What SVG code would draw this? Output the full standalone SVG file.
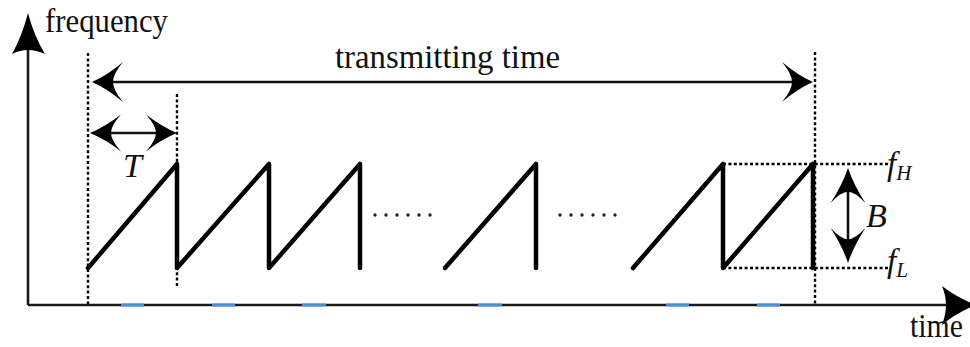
<svg xmlns="http://www.w3.org/2000/svg" xmlns:xlink="http://www.w3.org/1999/xlink" width="970" height="347" viewBox="0 0 970 347">
<style>
.ax{stroke:#1a1a1a;stroke-width:2.6;fill:none}
.saw{stroke:#000;stroke-width:4.5;fill:none;stroke-linecap:round;stroke-linejoin:round}
.dash{stroke:#000;stroke-width:2.4;stroke-dasharray:3 2.4;fill:none}
.dim{stroke:#111;stroke-width:2.6;fill:none}
.blue{stroke:#4a90d9;stroke-width:3}
.ah{fill:#000}
.t{font-family:"Liberation Serif","Times New Roman",serif;fill:#111}
.it{font-family:"Liberation Serif","Times New Roman",serif;font-style:italic;fill:#111}
.dot{fill:#222}
</style>
<defs>
<path id="ah" d="M0,0 Q-15,-6.5 -31,-20 Q-21,-8 -21,0 Q-21,8 -31,20 Q-15,6.5 0,0 Z"/>
</defs>
<g id="axes">
<line class="ax" x1="28" y1="305" x2="950" y2="305"/>
<line class="ax" x1="28" y1="305" x2="28" y2="40"/>
<path class="ah" d="M28,13 Q22,36 12,54 Q20,50 28,50 Q36,50 45,54 Q34,36 28,13 Z"/>
<path class="ah" d="M976,305 Q956,297 942,286 Q946,296 946,305 Q946,314 942,325 Q956,313 976,305 Z"/>
<line class="blue" x1="121" y1="305" x2="144" y2="305"/>
<line class="blue" x1="212" y1="305" x2="235" y2="305"/>
<line class="blue" x1="302" y1="305" x2="326" y2="305"/>
<line class="blue" x1="478" y1="305" x2="502" y2="305"/>
<line class="blue" x1="666" y1="305" x2="689" y2="305"/>
<line class="blue" x1="757" y1="305" x2="780" y2="305"/>
</g>
<g id="guides">
<line class="dash" x1="88" y1="53" x2="88" y2="305"/>
<line class="dash" x1="177" y1="94" x2="177" y2="287"/>
<line class="dash" x1="815" y1="52" x2="815" y2="305"/>
<line class="dash" x1="723" y1="164" x2="888" y2="164"/>
<line class="dash" x1="723" y1="268" x2="888" y2="268"/>
</g>
<g id="sawtooth">
<polyline class="saw" points="88,268 177,164 177,268 269,164 269,268 360,164 360,268"/>
<polyline class="saw" points="445,268 536,164 536,268"/>
<polyline class="saw" points="633,268 723,164 723,268 813,164 813,268"/>
<g class="dot">
<circle cx="375" cy="215" r="1.7"/><circle cx="386" cy="215" r="1.7"/><circle cx="397" cy="215" r="1.7"/><circle cx="408" cy="215" r="1.7"/><circle cx="419" cy="215" r="1.7"/><circle cx="430" cy="215" r="1.7"/>
<circle cx="560" cy="215" r="1.7"/><circle cx="571" cy="215" r="1.7"/><circle cx="582" cy="215" r="1.7"/><circle cx="593" cy="215" r="1.7"/><circle cx="604" cy="215" r="1.7"/><circle cx="615" cy="215" r="1.7"/>
</g>
</g>
<g id="connectors">
<line class="dim" x1="110" y1="82" x2="796" y2="82"/>
<use href="#ah" class="ah" transform="translate(92,82) rotate(180)"/>
<use href="#ah" class="ah" transform="translate(813,82)"/>
<line class="dim" x1="105" y1="133" x2="162" y2="133"/>
<use href="#ah" class="ah" transform="translate(90,133) rotate(180) scale(1,0.92)"/>
<use href="#ah" class="ah" transform="translate(177,133) scale(1,0.92)"/>
<line class="dim" x1="848" y1="185" x2="848" y2="246"/>
<use href="#ah" class="ah" transform="translate(848,168) rotate(-90) scale(1.13,0.87)"/>
<use href="#ah" class="ah" transform="translate(848,263) rotate(90) scale(1.13,0.87)"/>
</g>
<g id="labels">
<text class="t" x="45" y="32" font-size="33" textLength="123" lengthAdjust="spacingAndGlyphs">frequency</text>
<text class="t" x="335" y="68" font-size="33" textLength="225" lengthAdjust="spacingAndGlyphs">transmitting time</text>
<text class="t" x="910" y="337" font-size="33" textLength="53" lengthAdjust="spacingAndGlyphs">time</text>
<text class="it" x="123" y="177" font-size="34">T</text>
<text class="it" x="866" y="227" font-size="34">B</text>
<text class="it" x="887" y="175" font-size="33">f<tspan font-size="21" dy="5">H</tspan></text>
<text class="it" x="887" y="272" font-size="33">f<tspan font-size="21" dy="5">L</tspan></text>
</g>
</svg>
